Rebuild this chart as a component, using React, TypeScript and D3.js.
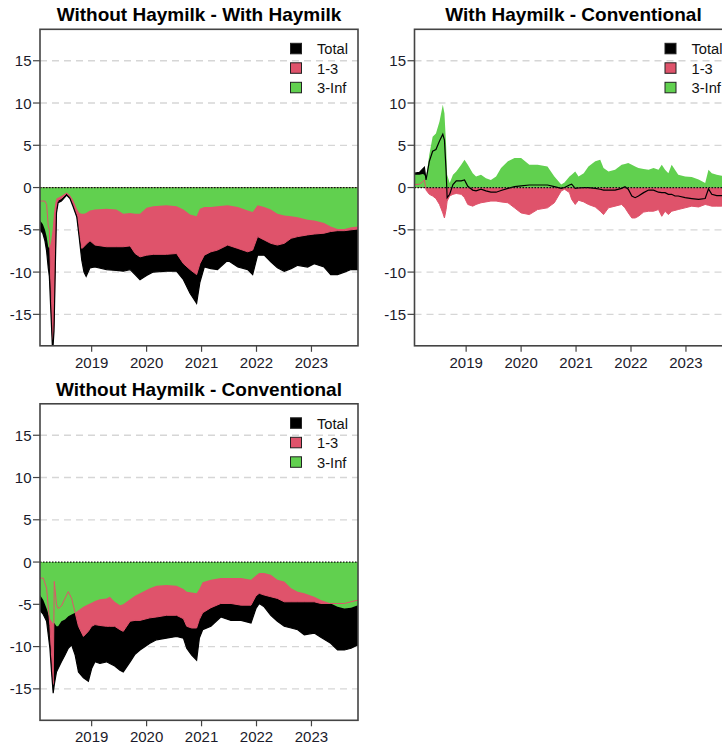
import React from 'react';
import * as d3 from 'd3';

// decimal years, values
const years1 = [2018.06, 2018.11, 2018.15, 2018.18, 2018.21, 2018.23, 2018.26, 2018.29, 2018.315, 2018.34, 2018.36, 2018.39, 2018.45, 2018.545, 2018.605, 2018.665, 2018.73, 2018.775, 2018.82, 2018.86, 2018.9, 2018.97, 2019.06, 2019.27, 2019.45, 2019.575, 2019.7, 2019.79, 2019.88, 2020.0, 2020.12, 2020.36, 2020.545, 2020.67, 2020.79, 2020.91, 2020.97, 2021.05, 2021.17, 2021.29, 2021.475, 2021.66, 2021.84, 2021.93, 2022.02, 2022.14, 2022.26, 2022.38, 2022.505, 2022.63, 2022.75, 2022.93, 2023.05, 2023.23, 2023.35, 2023.475, 2023.6, 2023.72, 2023.847];
const inf1 = [-3.9, -4.3, -5.0, -5.8, -7.0, -7.2, -6.5, -5.0, -3.0, -1.8, -1.3, -1.2, -1.0, -0.6, -0.9, -1.5, -2.5, -3.0, -3.1, -3.1, -3.0, -2.7, -2.6, -2.5, -2.6, -3.1, -3.0, -3.1, -3.1, -2.4, -2.2, -2.1, -2.2, -2.6, -3.2, -3.4, -2.5, -2.3, -2.3, -2.2, -2.1, -2.3, -2.7, -2.9, -2.1, -2.3, -2.6, -3.1, -3.3, -3.4, -3.5, -3.8, -3.9, -4.2, -4.6, -4.9, -4.9, -4.7, -4.6];
const mid1 = [-1.6, -1.6, -1.6, -2.0, -4.5, -5.0, -12.0, -18.0, -16.0, -8.0, -2.5, -1.5, -1.3, -0.7, -1.1, -2.0, -3.2, -5.4, -7.2, -7.0, -6.7, -6.3, -6.8, -7.0, -7.0, -7.0, -6.9, -7.8, -8.2, -8.0, -7.9, -7.9, -7.8, -9.0, -9.7, -10.3, -9.0, -8.0, -7.6, -7.4, -6.8, -7.2, -7.6, -7.4, -5.8, -6.2, -6.6, -6.8, -6.6, -6.0, -5.8, -5.6, -5.5, -5.4, -5.2, -5.1, -5.1, -5.0, -4.9];
const total1 = [-5.0, -5.4, -6.3, -7.5, -9.5, -10.5, -15.0, -19.5, -17.0, -9.0, -3.0, -1.8, -1.6, -0.9, -1.3, -2.3, -3.5, -6.0, -8.6, -10.0, -10.5, -9.5, -9.4, -9.7, -9.8, -9.9, -9.7, -10.3, -10.9, -10.4, -10.0, -9.9, -9.9, -10.9, -12.5, -13.7, -11.2, -9.4, -9.6, -9.7, -8.6, -9.4, -9.7, -10.3, -8.0, -8.0, -8.8, -9.5, -9.9, -9.6, -9.2, -9.4, -9.0, -9.4, -10.3, -10.3, -10.0, -9.7, -9.7];

const years2 = [2018.06, 2018.15, 2018.21, 2018.24, 2018.27, 2018.33, 2018.39, 2018.45, 2018.515, 2018.575, 2018.605, 2018.635, 2018.654, 2018.7, 2018.76, 2018.82, 2018.91, 2018.97, 2019.03, 2019.12, 2019.18, 2019.27, 2019.36, 2019.45, 2019.545, 2019.635, 2019.76, 2019.88, 2020.0, 2020.15, 2020.3, 2020.48, 2020.605, 2020.73, 2020.79, 2020.88, 2020.92, 2020.985, 2021.045, 2021.14, 2021.225, 2021.35, 2021.44, 2021.5, 2021.59, 2021.71, 2021.83, 2021.89, 2021.95, 2022.015, 2022.075, 2022.135, 2022.23, 2022.32, 2022.41, 2022.5, 2022.56, 2022.62, 2022.68, 2022.74, 2022.8, 2022.86, 2022.985, 2023.105, 2023.23, 2023.35, 2023.41, 2023.47, 2023.56, 2023.65, 2023.75, 2023.847];
const inf2 = [1.5, 1.5, 1.6, 1.5, 1.1, 3.9, 6.0, 6.4, 7.8, 9.8, 8.8, 5.0, 1.5, 0.55, 1.5, 1.9, 2.7, 3.3, 2.7, 1.7, 1.3, 1.5, 1.1, 0.9, 1.3, 2.3, 3.1, 3.5, 3.5, 2.7, 2.7, 2.5, 1.3, 0.35, 0.6, 1.3, 1.5, 1.9, 1.3, 1.7, 2.5, 3.1, 3.3, 2.3, 1.9, 2.1, 2.7, 2.8, 2.9, 2.7, 2.5, 2.3, 2.2, 2.1, 2.3, 2.1, 2.7, 2.1, 1.7, 2.7, 2.1, 1.5, 1.3, 1.25, 0.95, 0.55, 2.1, 1.7, 1.5, 1.4, 1.3, 1.2];
const mid2 = [0.35, 0.4, 0.7, 0.9, -0.3, -0.8, -1.0, -1.3, -2.0, -3.0, -3.6, -2.6, -1.6, -1.0, -0.8, -0.7, -0.8, -1.2, -2.0, -2.2, -2.0, -1.8, -1.7, -1.6, -1.6, -1.7, -1.8, -2.4, -3.0, -3.2, -2.6, -2.4, -1.8, -0.4, -0.2, -0.6, -1.4, -2.0, -1.5, -1.7, -2.0, -2.3, -2.8, -3.2, -2.4, -2.2, -2.0, -2.4, -3.0, -3.6, -3.6, -3.4, -2.9, -2.8, -2.8, -2.6, -3.4, -2.8, -3.2, -2.8, -2.7, -2.6, -2.4, -2.2, -2.3, -2.0, -2.1, -2.2, -2.2, -2.2, -2.1, -2.0];
const total2 = [1.7, 1.8, 2.2, 2.4, 0.9, 3.1, 4.3, 4.5, 5.5, 6.3, 5.6, 2.0, -1.2, -0.8, 0.35, 0.8, 0.8, 0.9, 0.15, -0.3, -0.4, -0.2, -0.4, -0.55, -0.55, -0.35, -0.1, 0.1, 0.2, 0.3, 0.3, 0.3, 0.1, -0.1, 0.0, 0.3, 0.4, -0.1, -0.05, 0.0, 0.0, -0.1, -0.2, -0.3, -0.3, -0.3, -0.1, 0.1, -0.2, -1.0, -1.2, -1.0, -0.6, -0.3, -0.3, -0.55, -0.6, -0.6, -0.8, -0.8, -1.0, -1.0, -1.2, -1.3, -1.4, -1.3, -0.15, -0.8, -0.95, -0.95, -1.0, -1.0];

const years3 = [2018.06, 2018.12, 2018.18, 2018.24, 2018.27, 2018.3, 2018.32, 2018.36, 2018.39, 2018.45, 2018.515, 2018.575, 2018.635, 2018.7, 2018.76, 2018.85, 2018.94, 2019.0, 2019.06, 2019.15, 2019.27, 2019.33, 2019.42, 2019.515, 2019.575, 2019.7, 2019.79, 2019.88, 2020.06, 2020.18, 2020.36, 2020.545, 2020.67, 2020.73, 2020.82, 2020.91, 2020.96, 2021.02, 2021.17, 2021.35, 2021.535, 2021.72, 2021.9, 2021.99, 2022.05, 2022.14, 2022.26, 2022.38, 2022.505, 2022.63, 2022.75, 2022.87, 2023.05, 2023.17, 2023.35, 2023.475, 2023.6, 2023.72, 2023.847];
const inf3 = [-3.9, -4.5, -5.5, -6.7, -7.0, -7.3, -7.2, -7.6, -7.6, -7.0, -6.8, -6.4, -6.2, -6.0, -5.7, -5.3, -5.0, -4.8, -4.6, -4.4, -4.3, -4.1, -4.7, -5.1, -5.0, -4.4, -4.0, -3.7, -3.1, -2.8, -2.7, -2.8, -3.2, -3.5, -3.6, -3.7, -3.2, -2.4, -2.1, -1.9, -1.9, -1.9, -2.1, -1.6, -1.3, -1.3, -1.5, -2.1, -2.3, -3.1, -3.5, -3.7, -4.1, -4.5, -4.9, -5.3, -5.5, -5.4, -5.1];
const mid3 = [-1.9, -1.9, -3.1, -7.5, -11.0, -14.5, -2.3, -5.0, -5.5, -5.2, -4.3, -3.5, -4.3, -6.0, -7.6, -8.8, -8.2, -7.6, -7.4, -7.5, -7.6, -7.6, -7.6, -8.0, -8.2, -7.0, -6.9, -6.9, -6.6, -6.5, -6.3, -6.3, -6.7, -7.6, -7.8, -7.8, -6.8, -6.0, -5.4, -4.9, -4.9, -5.1, -5.1, -4.0, -3.7, -3.9, -4.1, -4.3, -4.7, -4.7, -4.7, -4.7, -4.7, -4.9, -4.9, -4.9, -4.9, -4.7, -4.5];
const total3 = [-5.7, -6.2, -7.0, -10.2, -13.0, -15.5, -14.5, -13.0, -12.6, -11.8, -11.0, -10.2, -9.8, -11.0, -13.0, -13.7, -14.1, -12.6, -11.8, -12.0, -11.8, -12.0, -12.3, -12.8, -13.0, -11.8, -10.9, -10.4, -9.6, -9.2, -9.0, -8.8, -9.0, -10.2, -11.0, -11.6, -9.0, -8.0, -7.6, -6.5, -6.9, -6.9, -7.2, -5.5, -4.9, -5.3, -6.3, -7.0, -7.6, -7.8, -8.0, -8.6, -8.4, -8.9, -9.6, -10.4, -10.4, -10.2, -9.8];

const yearTicks = [2019, 2020, 2021, 2022, 2023];
const valueTicks = [15, 10, 5, 0, -5, -10, -15];
const legendLabels = ['Total', '1-3', '3-Inf'];
const legendColors = ['#000000', '#DF536B', '#61D04F'];

const FONT = '"Liberation Sans", Arial, sans-serif';
const W = 318;
const H = 316.5;

type PanelProps = {
  id: string;
  dx: number;
  dy: number;
  title: string;
  years: number[];
  inf: number[];
  mid: number[];
  total: number[];
};

function Panel({ id, dx, dy, title, years, inf, mid, total }: PanelProps) {
  const left = 40 + dx;
  const top = 29.3 + dy;
  const x = d3.scaleLinear().domain([2018.06, 2023.847]).range([left, left + W]);
  const y = d3.scaleLinear().domain([-18.72, 18.72]).range([top + H, top]);
  const idx = d3.range(years.length);

  const area = (vals: number[]) =>
    d3.area<number>().x(i => x(years[i])).y0(y(0)).y1(i => y(vals[i]))(idx) || '';
  const line = (vals: number[]) =>
    d3.line<number>().x(i => x(years[i])).y(i => y(vals[i]))(idx) || '';

  return (
    <g>
      <clipPath id={id}>
        <rect x={left} y={top} width={W} height={H} />
      </clipPath>
      {valueTicks.filter(v => v !== 0).map(v => (
        <line key={v} x1={left} x2={left + W} y1={y(v)} y2={y(v)}
          stroke="#d6d6d6" strokeWidth={1.3} strokeDasharray="7,5" />
      ))}
      <g clipPath={`url(#${id})`}>
        <path d={area(total)} fill="#000" />
        <path d={area(mid)} fill={legendColors[1]} />
        <path d={area(inf)} fill={legendColors[2]} />
        <path d={line(mid)} fill="none" stroke={legendColors[1]} strokeWidth={1} />
        <path d={line(total)} fill="none" stroke="#000" strokeWidth={1.2} />
      </g>
      <line x1={left} x2={left + W} y1={y(0)} y2={y(0)} stroke="#111" strokeWidth={1.3} strokeDasharray="1.5,1.5" />
      <rect x={left} y={top} width={W} height={H} fill="none" stroke="#444" strokeWidth={1.6} />
      {valueTicks.map(v => (
        <g key={v}>
          <line x1={left - 7} x2={left} y1={y(v)} y2={y(v)} stroke="#444" strokeWidth={1.2} />
          <text x={left - 8.5} y={y(v) + 5.5} textAnchor="end" fontSize={15} fontFamily={FONT} fill="#1a1a2a">{v}</text>
        </g>
      ))}
      {yearTicks.map(t => (
        <g key={t}>
          <line x1={x(t)} x2={x(t)} y1={top + H} y2={top + H + 6} stroke="#444" strokeWidth={1.2} />
          <text x={x(t)} y={top + H + 22} textAnchor="middle" fontSize={15} fontFamily={FONT} fill="#1a1a2a">{t}</text>
        </g>
      ))}
      {legendLabels.map((lab, i) => (
        <g key={lab}>
          <rect x={left + 250.5} y={top + 14 + i * 19.5} width={11} height={10.5} fill={legendColors[i]} stroke="#222" strokeWidth={1} />
          <text x={left + 277} y={top + 25 + i * 19.5} fontSize={14.7} fontFamily={FONT} fill="#111">{lab}</text>
        </g>
      ))}
      <text x={left + W / 2} y={top - 8.3} textAnchor="middle" fontSize={19} fontWeight="bold" fontFamily={FONT} fill="#000">{title}</text>
    </g>
  );
}

export default function App() {
  return (
    <svg width={722} height={747} style={{ position: 'absolute', left: 0, top: 0, background: '#fff' }}>
      <rect width={722} height={747} fill="#fff" />
      <Panel id="c1" dx={0} dy={0} title="Without Haymilk - With Haymilk" years={years1} inf={inf1} mid={mid1} total={total1} />
      <Panel id="c2" dx={374.5} dy={0} title="With Haymilk - Conventional" years={years2} inf={inf2} mid={mid2} total={total2} />
      <Panel id="c3" dx={0} dy={374.5} title="Without Haymilk - Conventional" years={years3} inf={inf3} mid={mid3} total={total3} />
    </svg>
  );
}
